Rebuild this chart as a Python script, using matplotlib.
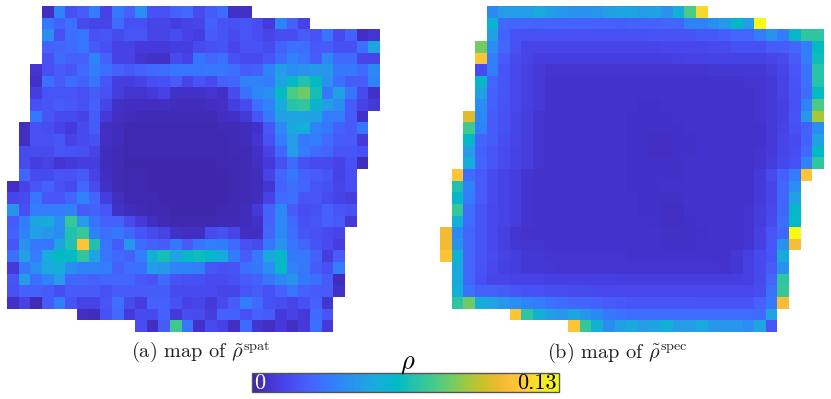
import numpy as np
import matplotlib
matplotlib.use("Agg")
import matplotlib.pyplot as plt
from matplotlib.colors import LinearSegmentedColormap

# values are rho in units of 0.001, each row starts at the column in *_first
spat_first = [3, 3, 3, 3, 3, 2, 2, 2, 2, 2, 1, 1, 1, 1, 1, 0, 0, 0, 0, 0, 0, 0, 0, 0, 0, 0, 6, 11]
spat_rows = [
    [5, 36, 18, 22, 34, 13, 32, 24, 40, 18, 18, 24, 27, 16, 22, 27, 6, 6],
    [32, 24, 29, 16, 14, 14, 27, 18, 18, 14, 14, 11, 13, 14, 24, 19, 18, 20, 17, 10, 36, 24, 13],
    [40, 18, 29, 31, 18, 20, 16, 20, 20, 14, 14, 17, 13, 11, 22, 20, 16, 20, 17, 14, 17, 17, 22, 19, 31, 16, 24, 5, 8],
    [24, 26, 27, 31, 22, 18, 13, 13, 10, 10, 10, 11, 11, 16, 18, 19, 14, 19, 19, 16, 24, 29, 29, 21, 22, 18, 18, 29, 50],
    [18, 27, 24, 24, 36, 24, 13, 13, 8, 6, 6, 16, 13, 31, 26, 29, 18, 16, 16, 20, 27, 36, 31, 22, 38, 27, 27, 14, 14],
    [8, 18, 22, 20, 27, 34, 29, 24, 21, 24, 27, 28, 31, 31, 31, 32, 32, 29, 22, 24, 36, 46, 40, 42, 44, 44, 32, 32, 27, 38],
    [6, 29, 22, 28, 24, 31, 20, 11, 11, 13, 17, 18, 22, 14, 19, 16, 24, 26, 36, 36, 34, 50, 60, 68, 62, 42, 29, 22, 22, 36],
    [11, 20, 20, 20, 18, 22, 18, 11, 8, 8, 10, 13, 6, 6, 6, 8, 6, 16, 29, 38, 40, 62, 78, 84, 66, 32, 48, 31, 16, 6],
    [18, 20, 22, 21, 18, 24, 14, 6, 5, 5, 5, 5, 4, 4, 4, 5, 6, 11, 16, 29, 36, 52, 70, 72, 58, 46, 40, 22, 13, 10],
    [32, 20, 16, 16, 13, 22, 10, 5, 4, 3, 3, 3, 3, 3, 3, 3, 5, 6, 10, 20, 32, 48, 50, 50, 48, 34, 34, 22, 6],
    [5, 18, 17, 13, 10, 16, 22, 5, 4, 2, 2, 2, 2, 2, 2, 2, 2, 3, 3, 4, 6, 20, 38, 52, 54, 36, 32, 24, 22, 31],
    [5, 18, 18, 20, 13, 16, 18, 5, 4, 2, 2, 2, 2, 2, 2, 2, 2, 2, 3, 4, 8, 18, 34, 46, 32, 34, 27, 22, 22, 10],
    [16, 16, 16, 20, 19, 18, 13, 4, 3, 2, 2, 2, 2, 2, 2, 2, 2, 2, 3, 3, 6, 13, 26, 46, 34, 27, 26, 20, 20, 18],
    [16, 11, 13, 8, 10, 11, 11, 4, 3, 1, 1, 1, 1, 1, 1, 1, 1, 2, 2, 3, 5, 10, 18, 27, 18, 16, 16, 13, 18, 4],
    [26, 16, 16, 19, 19, 22, 13, 5, 3, 2, 2, 1, 1, 1, 1, 1, 1, 1, 2, 3, 4, 13, 26, 32, 24, 22, 20, 13, 17],
    [5, 13, 20, 24, 18, 16, 26, 16, 6, 3, 2, 2, 1, 1, 1, 1, 1, 1, 1, 2, 3, 4, 8, 24, 29, 26, 20, 18, 14, 17],
    [14, 16, 31, 20, 20, 26, 36, 26, 11, 5, 2, 2, 2, 1, 1, 1, 1, 1, 1, 2, 3, 4, 13, 27, 29, 20, 20, 16, 13, 11],
    [42, 18, 34, 34, 34, 36, 22, 24, 20, 6, 4, 3, 2, 2, 1, 1, 1, 1, 2, 2, 4, 10, 24, 38, 22, 17, 18, 24, 20, 18],
    [22, 34, 50, 52, 40, 74, 46, 31, 24, 24, 16, 10, 5, 3, 2, 2, 2, 2, 3, 3, 4, 6, 24, 38, 27, 18, 20, 24, 22, 10],
    [24, 36, 48, 44, 40, 68, 74, 36, 29, 32, 26, 20, 16, 13, 6, 5, 5, 16, 18, 14, 5, 5, 26, 38, 29, 20, 18, 16, 14],
    [20, 42, 32, 31, 50, 68, 112, 68, 31, 22, 44, 27, 24, 22, 32, 22, 31, 34, 34, 27, 18, 16, 31, 42, 31, 26, 19, 16, 11],
    [29, 48, 34, 54, 62, 62, 72, 50, 31, 27, 24, 34, 56, 66, 50, 60, 64, 60, 52, 34, 22, 32, 50, 60, 32, 32, 24, 11, 22],
    [10, 32, 40, 52, 54, 40, 36, 36, 34, 24, 29, 29, 46, 44, 36, 36, 34, 20, 18, 19, 29, 32, 40, 60, 36, 32, 22, 18, 34],
    [20, 46, 29, 36, 46, 26, 26, 24, 26, 26, 26, 21, 19, 27, 20, 18, 18, 16, 16, 18, 22, 24, 32, 38, 42, 32, 29, 22, 4],
    [18, 24, 24, 22, 17, 22, 22, 22, 18, 22, 22, 22, 22, 22, 16, 16, 16, 16, 14, 14, 20, 22, 18, 24, 31, 24, 22, 22, 6],
    [6, 13, 3, 22, 34, 19, 13, 13, 20, 29, 16, 11, 24, 24, 18, 13, 14, 10, 16, 22, 34, 27, 18, 17, 14, 18, 24, 8],
    [5, 4, 18, 27, 10, 16, 16, 24, 10, 17, 16, 11, 24, 24, 18, 24, 22, 10, 13, 10, 27, 20],
    [17, 5, 22, 76, 31, 6, 16, 13, 5, 27, 8, 5, 10, 5, 10, 29, 10],
]

spec_first = [4, 4, 4, 3, 3, 3, 3, 3, 3, 2, 2, 2, 2, 2, 1, 1, 1, 1, 1, 0, 0, 0, 1, 1, 1, 1, 6, 11]
spec_rows = [
    [38, 46, 47, 47, 52, 47, 44, 42, 42, 43, 48, 50, 50, 46, 50, 42, 55, 78, 118],
    [58, 27, 26, 26, 25, 25, 25, 25, 25, 24, 24, 23, 24, 25, 25, 26, 26, 36, 36, 40, 45, 60, 46, 130],
    [48, 25, 19, 18, 18, 18, 18, 18, 18, 18, 18, 18, 18, 18, 19, 19, 19, 19, 21, 21, 23, 26, 26, 34, 42, 34, 60, 72, 72],
    [85, 40, 26, 18, 14, 14, 14, 14, 14, 14, 14, 14, 14, 14, 14, 14, 15, 15, 15, 15, 16, 16, 18, 18, 18, 22, 23, 26, 34, 62],
    [112, 34, 22, 16, 14, 11, 11, 11, 11, 11, 11, 11, 11, 11, 11, 11, 11, 12, 13, 13, 13, 13, 13, 13, 13, 14, 16, 22, 34, 64],
    [16, 34, 20, 15, 12, 10, 8, 8, 8, 8, 8, 8, 8, 8, 8, 8, 8, 8, 8, 8, 9, 9, 9, 9, 9, 11, 14, 20, 30, 70],
    [60, 26, 20, 15, 12, 10, 7, 7, 7, 7, 7, 7, 7, 7, 7, 7, 7, 7, 7, 7, 7, 7, 7, 8, 8, 10, 13, 19, 30, 70],
    [48, 24, 20, 15, 12, 10, 7, 7, 7, 7, 7, 7, 7, 7, 7, 7, 7, 7, 7, 7, 7, 7, 7, 7, 8, 10, 13, 18, 28, 62],
    [40, 24, 19, 15, 12, 10, 7, 7, 7, 7, 7, 7, 7, 7, 6, 6, 7, 7, 7, 7, 7, 7, 7, 7, 8, 10, 12, 18, 36, 78],
    [102, 38, 22, 18, 14, 11, 8, 7, 7, 7, 7, 7, 7, 7, 6, 6, 6, 6, 7, 7, 7, 7, 7, 7, 7, 8, 10, 12, 19, 44, 92],
    [76, 36, 22, 18, 14, 11, 8, 7, 7, 7, 7, 7, 7, 7, 6, 6, 6, 6, 6, 7, 7, 7, 7, 7, 7, 7, 10, 13, 18, 24, 40],
    [60, 26, 22, 17, 14, 11, 8, 7, 7, 7, 7, 7, 7, 7, 6, 6, 5, 5, 6, 6, 7, 7, 7, 7, 7, 7, 10, 14, 16, 24, 48],
    [46, 24, 20, 16, 13, 11, 8, 7, 7, 7, 7, 7, 7, 7, 6, 6, 5, 5, 6, 6, 7, 7, 7, 7, 7, 8, 10, 14, 17, 27, 60],
    [54, 26, 20, 16, 13, 11, 8, 7, 7, 7, 7, 7, 7, 7, 6, 6, 6, 6, 6, 7, 7, 7, 7, 7, 7, 8, 11, 15, 18, 36, 72],
    [112, 28, 22, 16, 13, 11, 8, 7, 7, 7, 7, 7, 7, 7, 7, 6, 6, 6, 6, 6, 7, 7, 7, 7, 7, 7, 10, 16, 24, 34, 112],
    [68, 36, 22, 16, 13, 11, 8, 7, 7, 7, 7, 7, 7, 7, 7, 6, 6, 6, 7, 7, 7, 7, 7, 7, 7, 7, 10, 14, 26, 40],
    [60, 34, 22, 16, 13, 11, 8, 7, 7, 7, 7, 7, 7, 7, 7, 7, 6, 6, 6, 6, 7, 7, 7, 7, 7, 7, 10, 14, 26, 48],
    [74, 28, 20, 15, 13, 11, 8, 7, 7, 7, 7, 7, 7, 7, 7, 7, 6, 6, 5, 5, 7, 7, 7, 7, 7, 8, 11, 15, 26, 60],
    [56, 28, 20, 15, 13, 11, 8, 7, 7, 7, 7, 7, 7, 7, 7, 7, 7, 6, 5, 5, 6, 7, 7, 7, 7, 8, 11, 16, 28, 60],
    [106, 38, 26, 20, 15, 12, 8, 7, 7, 7, 7, 7, 7, 7, 7, 7, 7, 7, 7, 6, 6, 6, 6, 7, 7, 7, 8, 12, 20, 26, 130],
    [106, 42, 26, 20, 15, 12, 9, 8, 8, 7, 7, 7, 7, 7, 7, 7, 7, 7, 7, 6, 6, 6, 7, 7, 7, 7, 8, 12, 20, 42, 108],
    [112, 56, 26, 20, 16, 13, 11, 9, 9, 8, 8, 8, 8, 8, 8, 8, 7, 7, 7, 7, 7, 7, 7, 7, 7, 9, 12, 16, 19, 52],
    [52, 26, 19, 15, 12, 11, 9, 9, 9, 8, 8, 8, 8, 8, 8, 8, 8, 8, 8, 8, 8, 8, 8, 7, 9, 12, 16, 22, 42],
    [52, 26, 18, 14, 14, 13, 13, 13, 12, 12, 12, 12, 12, 12, 11, 11, 11, 11, 11, 11, 11, 11, 11, 11, 11, 12, 16, 26, 72],
    [54, 30, 24, 24, 22, 20, 18, 18, 17, 17, 16, 16, 15, 15, 15, 15, 15, 15, 15, 15, 15, 15, 15, 15, 15, 15, 17, 30, 74],
    [72, 84, 54, 50, 44, 40, 36, 34, 30, 28, 26, 26, 24, 22, 21, 20, 20, 20, 20, 20, 20, 19, 19, 19, 19, 19, 24, 32, 108],
    [112, 72, 55, 48, 44, 50, 44, 38, 32, 30, 28, 28, 28, 28, 28, 28, 28, 28, 28, 28, 28, 27, 50],
    [112, 74, 56, 40, 48, 52, 46, 50, 56, 46, 46, 52, 44, 44, 44, 40, 50, 20],
]

rho_max = 130
caption_a = r"(a) map of $\tilde{\rho}^{\mathrm{spat}}$"
caption_b = r"(b) map of $\tilde{\rho}^{\mathrm{spec}}$"
cbar_low = "0"
cbar_high = "0.13"

# parula, every third entry of the matlab table
parula = LinearSegmentedColormap.from_list("parula", [
    (.2422, .1504, .6603), (.2647, .1978, .7952), (.2783, .2559, .8991), (.2810, .3228, .9579),
    (.2699, .3892, .9906), (.2206, .4603, .9973), (.1786, .5289, .9682), (.1540, .5902, .9218),
    (.1248, .6459, .8883), (.0689, .6948, .8394), (.0067, .7312, .7660), (.1408, .7584, .6842),
    (.2161, .7843, .5923), (.3406, .8008, .4789), (.5044, .7993, .3480), (.6720, .7793, .2227),
    (.8203, .7498, .1535), (.9393, .7288, .2100), (.9970, .7659, .2199), (.9786, .8386, .1766),
    (.9597, .9135, .1423), (.9769, .9839, .0805)], N=256)

plt.rcParams["mathtext.fontset"] = "cm"
plt.rcParams["axes.formatter.use_mathtext"] = True


def make_grid(rows, first, width):
    grid = np.full((len(rows), width), np.nan)
    for i, row in enumerate(rows):
        grid[i, first[i]:first[i] + len(row)] = row
    return grid


W, H = 831, 399
fig = plt.figure(figsize=(W / 100, H / 100), dpi=100)


def px_axes(x0, y0, x1, y1):
    return fig.add_axes([x0 / W, 1 - y1 / H, (x1 - x0) / W, (y1 - y0) / H])


ax_a = px_axes(7.3, 6, 379.5, 332)
im = ax_a.imshow(make_grid(spat_rows, spat_first, 32), cmap=parula, vmin=0, vmax=rho_max,
                 aspect="auto", interpolation="nearest")
ax_a.axis("off")

ax_b = px_axes(439.7, 6, 823.4, 332)
ax_b.imshow(make_grid(spec_rows, spec_first, 33), cmap=parula, vmin=0, vmax=rho_max,
            aspect="auto", interpolation="nearest")
ax_b.axis("off")

fig.text(131 / W, 1 - 358 / H, caption_a, family="cmr10", fontsize=14.6, color="#222222", va="baseline")
fig.text(547 / W, 1 - 358 / H, caption_b, family="cmr10", fontsize=14.6, color="#222222", va="baseline")
fig.text(408 / W, 1 - 369 / H, r"$\rho$", fontsize=19, color="black", ha="center", va="baseline")

cax = px_axes(252, 372.5, 559, 392)
cbar = fig.colorbar(im, cax=cax, orientation="horizontal")
cbar.set_ticks([])
cbar.outline.set_edgecolor("#555555")
cbar.outline.set_linewidth(1)
cax.text(0.007, 0.46, cbar_low, transform=cax.transAxes, family="cmr10", fontsize=16,
         color="white", ha="left", va="center")
cax.text(0.994, 0.46, cbar_high, transform=cax.transAxes, family="cmr10", fontsize=16,
         color="black", ha="right", va="center")

fig.savefig("out.png", dpi=100)
